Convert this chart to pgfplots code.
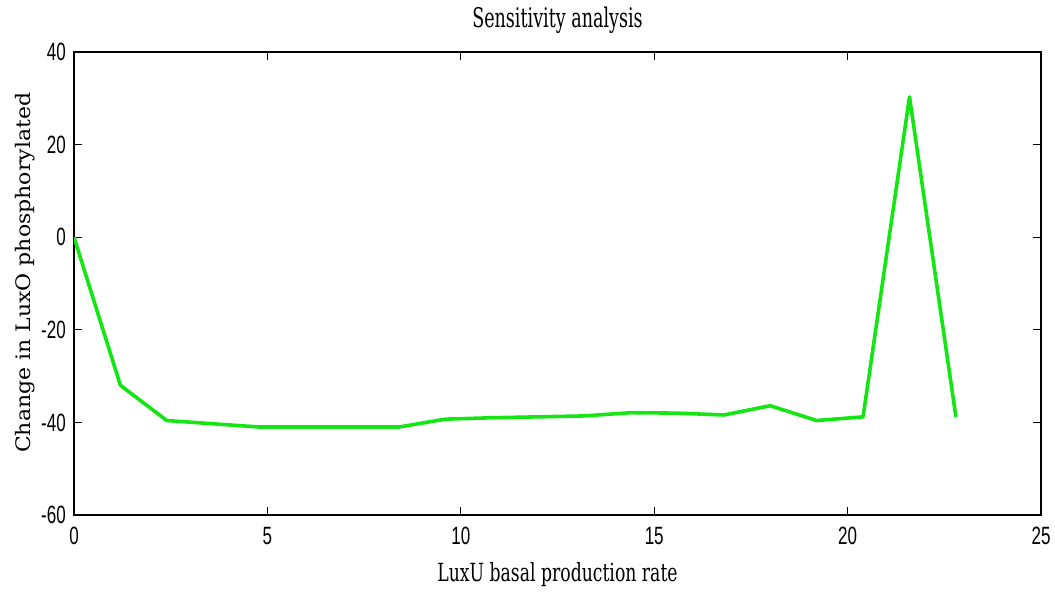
\documentclass[border=0pt]{standalone}
\usepackage{pgfplots}
\pgfplotsset{compat=1.18}
\usepackage{fontspec}
\setmainfont{Liberation Serif}
% narrow sans for tick numbers, condensed slab-like serif for the labels
\newfontfamily\tickfont[FakeStretch=0.68]{Liberation Sans}
\newfontfamily\titlefont[FakeStretch=0.65]{DejaVu Serif}
\newfontfamily\xlabfont[FakeStretch=0.69]{DejaVu Serif}
\newfontfamily\ylabfont[FakeStretch=1.1]{DejaVu Serif}
\definecolor{simgreen}{RGB}{20,230,20}

\pgfplotstableread{
x     y
0     0
1.2   -32
2.4   -39.6
3.6   -40.3
4.8   -41
6.0   -41
7.2   -41
8.4   -41
9.6   -39.3
10.8  -39
12.0  -38.8
13.2  -38.6
14.4  -37.9
15.6  -38
16.8  -38.4
18.0  -36.4
19.2  -39.6
20.4  -38.8
21.6  30.3
22.8  -38.8
}\sensitivity

\begin{document}
\begin{tikzpicture}
\path[use as bounding box] (0bp,0bp) rectangle (1055bp,594bp);
\begin{axis}[
  at={(74bp,79bp)}, anchor=south west,
  scale only axis, width=967bp, height=463bp,
  xmin=0, xmax=25, ymin=-60, ymax=40,
  xtick={0,5,10,15,20,25},
  ytick={-60,-40,-20,0,20,40},
  xticklabels={0,5,10,15,20,25},
  yticklabels={-60,-40,-20,0,20,40},
  tick align=inside,
  major tick length=8bp,
  tick style={black, line width=1bp},
  axis line style={black, line width=1.3bp},
  ticklabel style={font=\fontsize{25bp}{25bp}\tickfont},
  xticklabel style={anchor=north, inner sep=0pt, yshift=-12bp},
  yticklabel style={anchor=east, inner sep=0pt, xshift=-8bp},
  title={Sensitivity analysis},
  title style={font=\fontsize{27bp}{27bp}\titlefont, at={(0.5,1.041)}, anchor=base, inner sep=0pt},
  xlabel={LuxU basal production rate},
  xlabel style={font=\fontsize{25bp}{25bp}\xlabfont, at={(0.5,-0.1447)}, anchor=base, inner sep=0pt},
  ylabel={Change in LuxO phosphorylated},
  ylabel style={font=\fontsize{20bp}{20bp}\ylabfont, at={(-0.0455,0.523)}, anchor=base, inner sep=0pt},
]
\addplot[simgreen, line width=3.6bp, line join=round] table[x=x, y=y] {\sensitivity};
\end{axis}
\end{tikzpicture}
\end{document}
